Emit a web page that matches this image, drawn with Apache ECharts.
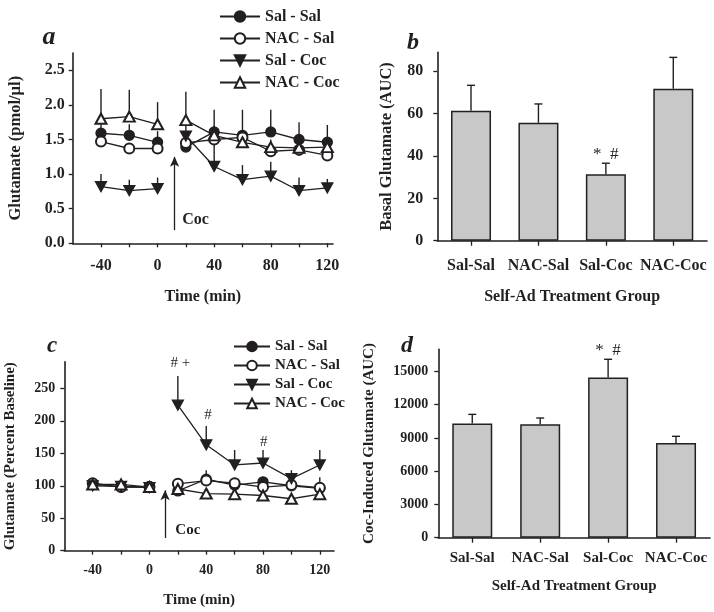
<!DOCTYPE html>
<html><head><meta charset="utf-8">
<script src="https://cdn.jsdelivr.net/npm/echarts@6/dist/echarts.min.js"></script>
<style>html,body{margin:0;background:#fff}#c{width:714px;height:612px}</style>
</head><body><div id="c"></div>
<script>
// ---- data ----
const times = [-40, -20, 0, 20, 40, 60, 80, 100, 120];
const names = ['Sal - Sal', 'NAC - Sal', 'Sal - Coc', 'NAC - Coc'];
// panel a: glutamate (pmol/ul)
const aSalSal = [1.59, 1.56, 1.46, 1.39, 1.61, 1.56, 1.61, 1.50, 1.46];
const aNacSal = [1.47, 1.37, 1.37, 1.45, 1.50, 1.53, 1.33, 1.35, 1.27];
const aSalCoc = [0.82, 0.76, 0.79, 1.55, 1.11, 0.92, 0.97, 0.76, 0.80];
const aNacCoc = [1.80, 1.83, 1.72, 1.78, 1.56, 1.46, 1.39, 1.38, 1.39];
const aSalSalErr = [1.72, 1.72, 1.62, 1.50, 1.93, 1.93, 1.93, 1.75, 1.71];
const aNacSalErr = [1.57, 1.45, 1.45, 1.52, 1.60, 1.62, 1.42, 1.44, 1.36];
const aSalCocErr = [1.00, 0.92, 0.95, 1.70, 1.45, 1.13, 1.18, 0.95, 0.93];
const aNacCocErr = [2.23, 2.22, 2.04, 2.19, 1.70, 1.60, 1.50, 1.50, 1.50];
// panel c: percent baseline
const cSalSal = [103, 98, 99, 92, 110, 101, 106, 100, 96];
const cNacSal = [104, 98, 98, 103, 108, 104, 98, 101, 97];
const cSalCoc = [100, 99, 97, 224, 163, 132, 135, 111, 132];
const cNacCoc = [102, 102, 98, 95, 88, 87, 85, 80, 87];
const cSalSalErr = [107, 101, 102, 96, 124, 112, 113, 108, 105];
const cNacSalErr = [107, 101, 101, 106, 115, 108, 103, 106, 113];
const cSalCocErr = [102, 101, 99, 269, 192, 155, 155, 124, 155];
const cNacCocErr = [104, 104, 100, 98, 91, 90, 88, 83, 90];
// panels b, d
const groups = ['Sal-Sal', 'NAC-Sal', 'Sal-Coc', 'NAC-Coc'];
const bBasal = [61.4, 55.7, 31.4, 71.8];
const bBasalErr = [73.4, 64.6, 36.6, 86.6];
const dCoc = [10300, 10230, 14460, 8550];
const dCocErr = [11130, 10800, 16100, 9150];
// tick labels
const aYTicks = [0, 0.5, 1, 1.5, 2, 2.5];
const timeTicks = [-40, -20, 0, 20, 40, 60, 80, 100, 120];
const timeLabels = [-40, 0, 40, 80, 120];
const bYTicks = [0, 20, 40, 60, 80];
const cYTicks = [0, 50, 100, 150, 200, 250];
const dYTicks = [0, 3000, 6000, 9000, 12000, 15000];

// ---- style ----
const INK = '#231f20';
const SERIF = "'Liberation Serif','Times New Roman',serif";
const txt = (size, extra) => Object.assign({ fontFamily: SERIF, fontWeight: 'bold', fontSize: size, color: INK }, extra || {});
const symbols = ['circle', 'emptyCircle', 'path://M0,0L10,0L5,9Z', 'emptyTriangle'];
const symSizes = [10, 10, [11, 10], [11, 10]];

function withGap(vals) {
  const d = [];
  vals.forEach((v, i) => { if (i === 3) d.push([10, '-']); d.push([times[i], v]); });
  return d;
}
function lineSeries(k, vals, gi, extra) {
  return Object.assign({
    type: 'line', name: names[k], xAxisIndex: gi, yAxisIndex: gi, data: withGap(vals),
    symbol: symbols[k], symbolSize: symSizes[k], showSymbol: true, connectNulls: false,
    lineStyle: { color: INK, width: 1.3 },
    itemStyle: { color: INK, borderColor: INK, borderWidth: 1.3 },
    animation: false, z: 3 + k
  }, extra || {});
}
function errSeries(vals, errs, gi, cap) {
  return {
    type: 'custom', xAxisIndex: gi, yAxisIndex: gi, z: 2, animation: false, silent: true,
    data: vals.map((v, i) => [cap ? i : times[i], v, errs[i]]),
    renderItem: function (params, api) {
      const p0 = api.coord([api.value(0), api.value(1)]);
      const p1 = api.coord([api.value(0), api.value(2)]);
      const children = [{ type: 'line', shape: { x1: p0[0], y1: p0[1], x2: p1[0], y2: p1[1] }, style: { stroke: INK, lineWidth: 1.4 } }];
      if (cap) children.push({ type: 'line', shape: { x1: p1[0] - 4, y1: p1[1], x2: p1[0] + 4, y2: p1[1] }, style: { stroke: INK, lineWidth: 1.4 } });
      return { type: 'group', children: children };
    }
  };
}
function valueAxis(gi, min, max, ticks, labels, fmt, size, margin, name, gap, nameSize) {
  return {
    type: 'value', gridIndex: gi, min: min, max: max,
    axisLine: { show: true, onZero: false, lineStyle: { color: INK, width: 1.6 } },
    axisTick: { show: true, length: 4, customValues: ticks, lineStyle: { color: INK, width: 1.3 } },
    axisLabel: Object.assign(txt(size), { customValues: labels, formatter: fmt, margin: margin }),
    splitLine: { show: false },
    name: name, nameLocation: 'middle', nameGap: gap, nameTextStyle: txt(nameSize)
  };
}
function catAxis(gi, size, margin, name, gap, nameSize) {
  return {
    type: 'category', gridIndex: gi, data: groups, boundaryGap: true,
    axisLine: { show: true, onZero: false, lineStyle: { color: INK, width: 1.6 } },
    axisTick: { show: true, alignWithLabel: true, length: 5, lineStyle: { color: INK, width: 1.3 } },
    axisLabel: Object.assign(txt(size), { margin: margin, interval: 0 }),
    name: name, nameLocation: 'middle', nameGap: gap, nameTextStyle: txt(nameSize)
  };
}
function annot(coord, text, size, weight) {
  return { coord: coord, symbolSize: 0, label: { show: true, position: 'inside', formatter: text, fontFamily: SERIF, fontSize: size, fontWeight: weight || 'normal', color: INK } };
}
const arrowLine = (x, y0, y1) => ({
  silent: true, symbol: ['none', 'arrow'], symbolSize: [7, 10], animation: false,
  lineStyle: { color: INK, width: 1.3, type: 'solid' }, label: { show: false },
  data: [[{ coord: [x, y0] }, { coord: [x, y1] }]]
});

const chart = echarts.init(document.getElementById('c'), null, { renderer: 'canvas' });
chart.setOption({
  backgroundColor: '#fff',
  animation: false,
  grid: [
    { left: 72.7, right: 381, top: 53, bottom: 368.7 },
    { left: 437.3, right: 7, top: 52.3, bottom: 371.3 },
    { left: 64.3, right: 380, top: 361.7, bottom: 61.3 },
    { left: 438.3, right: 4, top: 349.3, bottom: 74.3 }
  ],
  xAxis: [
    valueAxis(0, -60, 124, timeTicks, timeLabels, v => String(v), 16, 15, 'Time (min)', 46, 16),
    catAxis(1, 16, 17, 'Self-Ad Treatment Group', 48, 16),
    valueAxis(2, -60, 130, timeTicks, timeLabels, v => String(v), 14, 13, 'Time (min)', 42, 15),
    catAxis(3, 15, 13, 'Self-Ad Treatment Group', 41, 15)
  ],
  yAxis: [
    valueAxis(0, 0, 2.75, aYTicks, aYTicks, v => v.toFixed(1), 16, 8, 'Glutamate (pmol/µl)', 48, 16.5),
    valueAxis(1, 0, 89, bYTicks, bYTicks, v => String(v), 16, 14, 'Basal Glutamate (AUC)', 42, 16.5),
    valueAxis(2, 0, 291, cYTicks, cYTicks, v => String(v), 14, 9, 'Glutamate (Percent Baseline)', 47, 15),
    valueAxis(3, 0, 17000, dYTicks, dYTicks, v => String(v), 14, 10, 'Coc-Induced Glutamate (AUC)', 62, 15)
  ],
  legend: [
    { data: names, orient: 'vertical', left: 214, top: 3.5, itemWidth: 40, itemHeight: 13, itemGap: 6, selectedMode: false, textStyle: txt(16) },
    { data: names, orient: 'vertical', left: 228, top: 334, itemWidth: 36, itemHeight: 12, itemGap: 4, selectedMode: false, textStyle: txt(15) }
  ],
  series: [
    errSeries(aSalSal, aSalSalErr, 0), errSeries(aNacSal, aNacSalErr, 0),
    errSeries(aSalCoc, aSalCocErr, 0), errSeries(aNacCoc, aNacCocErr, 0),
    lineSeries(0, aSalSal, 0, {
      markLine: arrowLine(12, 0.19, 1.25),
      markPoint: { animation: false, silent: true, data: [annot([26.9, 0.34], 'Coc', 16, 'bold')] }
    }),
    lineSeries(1, aNacSal, 0), lineSeries(2, aSalCoc, 0), lineSeries(3, aNacCoc, 0),

    { type: 'bar', xAxisIndex: 1, yAxisIndex: 1, data: bBasal, barWidth: 40, animation: false,
      itemStyle: { color: '#c8c8c8', borderColor: INK, borderWidth: 1.5 },
      markPoint: { animation: false, silent: true, data: [annot(['Sal-Coc', 40.6], '*  #', 17)] } },
    errSeries(bBasal, bBasalErr, 1, true),

    errSeries(cSalSal, cSalSalErr, 2), errSeries(cNacSal, cNacSalErr, 2),
    errSeries(cSalCoc, cSalCocErr, 2), errSeries(cNacCoc, cNacCocErr, 2),
    lineSeries(0, cSalSal, 2, {
      markLine: arrowLine(11, 19.5, 93),
      markPoint: { animation: false, silent: true, data: [
        annot([27, 32], 'Coc', 15, 'bold'),
        annot([21.7, 289], '# +', 15),
        annot([41.2, 209], '#', 15),
        annot([80.5, 168], '#', 15)
      ] }
    }),
    lineSeries(1, cNacSal, 2), lineSeries(2, cSalCoc, 2), lineSeries(3, cNacCoc, 2),

    { type: 'bar', xAxisIndex: 3, yAxisIndex: 3, data: dCoc, barWidth: 40, animation: false,
      itemStyle: { color: '#c8c8c8', borderColor: INK, borderWidth: 1.5 },
      markPoint: { animation: false, silent: true, data: [annot(['Sal-Coc', 16890], '*  #', 17)] } },
    errSeries(dCoc, dCocErr, 3, true)
  ],
  graphic: [
    { type: 'text', x: 49, y: 50, style: { text: 'a', fontFamily: SERIF, fontStyle: 'italic', fontWeight: 'bold', fontSize: 26, fill: INK, textAlign: 'center', textVerticalAlign: 'bottom' } },
    { type: 'text', x: 413, y: 55, style: { text: 'b', fontFamily: SERIF, fontStyle: 'italic', fontWeight: 'bold', fontSize: 24, fill: INK, textAlign: 'center', textVerticalAlign: 'bottom' } },
    { type: 'text', x: 52, y: 358, style: { text: 'c', fontFamily: SERIF, fontStyle: 'italic', fontWeight: 'bold', fontSize: 23, fill: INK, textAlign: 'center', textVerticalAlign: 'bottom' } },
    { type: 'text', x: 407, y: 358, style: { text: 'd', fontFamily: SERIF, fontStyle: 'italic', fontWeight: 'bold', fontSize: 24, fill: INK, textAlign: 'center', textVerticalAlign: 'bottom' } }
  ]
});
</script>
</body></html>
